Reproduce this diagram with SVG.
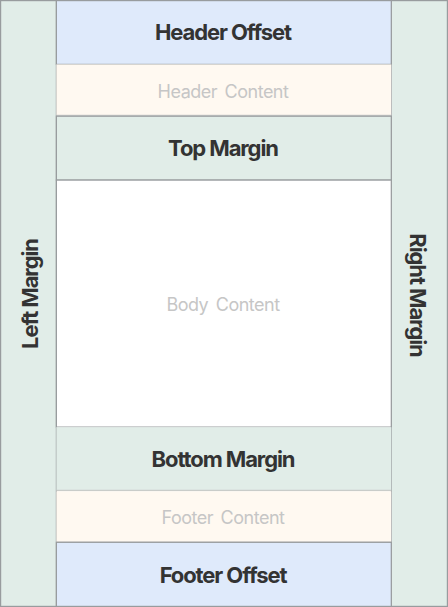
<svg xmlns="http://www.w3.org/2000/svg" width="448" height="607" viewBox="0 0 448 607">
<style>
.b{stroke:#989c9e;stroke-width:1.2}
.g{fill:#e1ede8}.bl{fill:#dfeafb}.c{fill:#fff9f1}.w{fill:#ffffff}
.t{font-family:Inter,"Noto Sans",sans-serif;font-weight:700;font-size:22px;fill:#333333;letter-spacing:-1.1px;text-anchor:middle;dominant-baseline:central}
.l{font-family:Inter,"Noto Sans",sans-serif;font-weight:400;font-size:18px;fill:#c6c6c6;letter-spacing:-0.5px;word-spacing:3px;text-anchor:middle;dominant-baseline:central}
</style>
<g id="left-margin"><rect class="g b" x="0.6" y="0.6" width="55.8" height="605.8"/><text class="t" transform="translate(30,294) rotate(-90)">Left Margin</text></g>
<g id="right-margin"><rect class="g b" x="391.3" y="0.6" width="56.1" height="605.8"/><text class="t" transform="translate(418,295) rotate(90)">Right Margin</text></g>
<g id="header-offset"><rect class="bl b" x="56.4" y="0.6" width="334.9" height="63.8"/><text class="t" x="223" y="32">Header Offset</text></g>
<g id="header-content"><rect class="c" x="56.4" y="64.4" width="334.9" height="51"/><line x1="56.4" y1="115.5" x2="391.3" y2="115.5" stroke="#c9ccc9" stroke-width="1.5"/><text class="l" x="223" y="91">Header Content</text></g>
<g id="top-margin"><rect class="g b" x="56.4" y="116.2" width="334.9" height="63.9"/><text class="t" x="223" y="148">Top Margin</text></g>
<g id="body-content"><rect class="w b" x="56.4" y="180.1" width="334.9" height="247"/><text class="l" x="223" y="304">Body Content</text></g>
<g id="bottom-margin"><rect class="g" x="56.4" y="427.1" width="334.9" height="63.4"/><line x1="56.4" y1="490.6" x2="391.3" y2="490.6" stroke="#c9ccc9" stroke-width="1.5"/><text class="t" x="223" y="459">Bottom Margin</text></g>
<g id="footer-content"><rect class="c" x="56.4" y="491.3" width="334.9" height="51"/><line x1="56.4" y1="542.3" x2="391.3" y2="542.3" class="b"/><text class="l" x="223" y="517">Footer Content</text></g>
<g id="footer-offset"><rect class="bl b" x="56.4" y="542.3" width="334.9" height="64.1"/><text class="t" x="223" y="575">Footer Offset</text></g>
</svg>
